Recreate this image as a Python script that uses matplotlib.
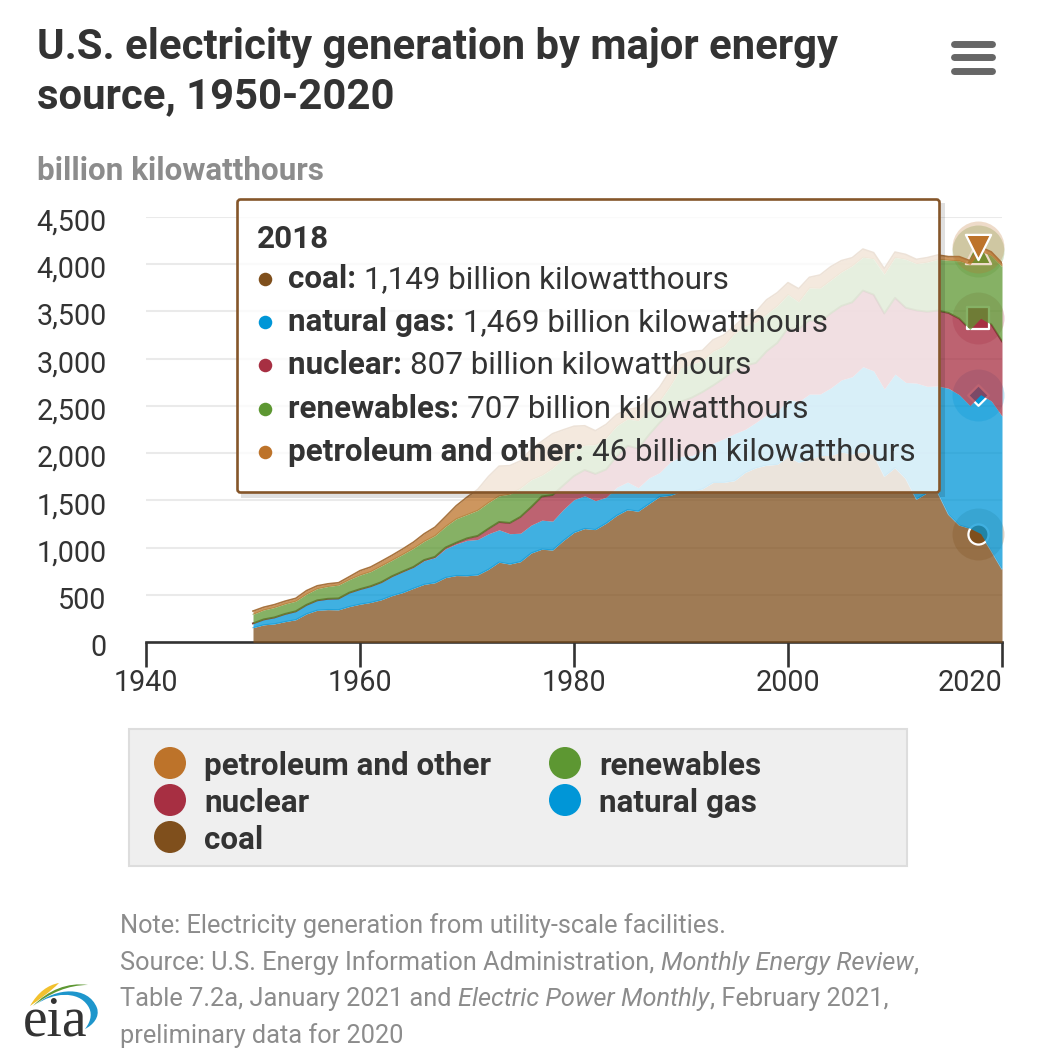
import matplotlib
matplotlib.use('Agg')
import matplotlib.pyplot as plt
import matplotlib.patches as patches
from matplotlib.path import Path
from matplotlib.transforms import ScaledTranslation
import numpy as np

plt.rcParams['font.family'] = ['Roboto', 'DejaVu Sans']

W, H = 1058, 1054

# data, billion kilowatthours
years = list(range(1950, 2021))
coal = [155, 185, 195, 219, 239, 301, 339, 346, 344, 378,
        403, 422, 450, 494, 526, 571, 613, 630, 685, 706,
        704, 713, 771, 848, 828, 853, 944, 985, 976, 1075,
        1162, 1203, 1192, 1259, 1342, 1402, 1386, 1464, 1541, 1554,
        1594, 1592, 1622, 1690, 1691, 1709, 1796, 1845, 1873, 1881,
        1966, 1904, 1933, 1974, 1978, 2013, 1991, 2016, 1986, 1756,
        1847, 1733, 1514, 1581, 1582, 1352, 1239, 1206, 1149, 965, 774]
natural_gas = [45, 57, 68, 81, 89, 95, 105, 114, 120, 147,
               158, 169, 184, 202, 220, 222, 251, 265, 304, 333,
               373, 374, 376, 341, 320, 300, 295, 306, 305, 329,
               346, 346, 305, 274, 297, 292, 249, 273, 253, 352,
               373, 381, 404, 415, 460, 496, 455, 479, 531, 556,
               601, 639, 691, 650, 711, 761, 816, 897, 883, 921,
               988, 1014, 1226, 1125, 1127, 1333, 1378, 1296, 1469, 1586, 1617]
nuclear = [0, 0, 0, 0, 0, 0, 0, 0, 0, 0,
           1, 2, 2, 3, 3, 4, 6, 8, 13, 14,
           22, 38, 54, 83, 114, 173, 191, 251, 276, 255,
           251, 273, 283, 294, 328, 384, 414, 455, 527, 529,
           577, 613, 619, 610, 640, 673, 675, 629, 673, 728,
           754, 769, 780, 764, 789, 782, 787, 806, 806, 799,
           807, 790, 769, 789, 797, 797, 806, 805, 807, 809, 790]
renewables = [96, 100, 105, 106, 107, 113, 123, 130, 141, 138,
              149, 155, 172, 169, 181, 197, 198, 224, 223, 253,
              251, 270, 276, 276, 304, 303, 288, 224, 283, 283,
              279, 261, 309, 332, 321, 284, 294, 257, 227, 277,
              357, 353, 333, 361, 339, 385, 420, 428, 394, 392,
              356, 287, 343, 355, 351, 358, 385, 352, 380, 417,
              427, 513, 494, 523, 543, 557, 610, 687, 707, 729, 792]
petroleum_other = [34, 29, 30, 29, 30, 37, 30, 28, 25, 30,
                   46, 48, 49, 52, 57, 65, 79, 89, 104, 138,
                   184, 220, 274, 314, 301, 289, 320, 358, 365, 304,
                   246, 206, 147, 144, 120, 100, 137, 118, 149, 158,
                   137, 134, 106, 121, 118, 80, 98, 111, 149, 138,
                   125, 138, 111, 140, 142, 121, 86, 86, 64, 57,
                   56, 50, 45, 48, 45, 38, 44, 40, 46, 38, 36]

series_names = ['coal', 'natural gas', 'nuclear', 'renewables', 'petroleum and other']
series_colors = ['#7F4F1C', '#0096D7', '#A72F42', '#5D9732', '#BD732A']
series_markers = ['o', 'D', 's', '^', 'v']
series_data = [coal, natural_gas, nuclear, renewables, petroleum_other]
y_ticks = [0, 500, 1000, 1500, 2000, 2500, 3000, 3500, 4000, 4500]
x_ticks = [1940, 1960, 1980, 2000, 2020]
hover_year = 2018

fig = plt.figure(figsize=(W / 100, H / 100), dpi=100, facecolor='white')

# main chart, placed by pixel position of the plot area
ax = fig.add_axes([146 / W, 1 - 642.3 / H, (1002 - 146) / W, (642.3 - 216.6) / H])
ax.set_xlim(1940, 2020)
ax.set_ylim(0, 4500)
for s in ['left', 'right', 'top']:
    ax.spines[s].set_visible(False)
ax.spines['bottom'].set_linewidth(1.9)
ax.spines['bottom'].set_color('#333333')
ax.set_axisbelow(True)
ax.yaxis.grid(True, color='#EAEAEA', lw=1.5)
ax.set_yticks(y_ticks)
ax.set_yticklabels([f'{v:,}' for v in y_ticks])
ax.set_xticks(x_ticks)
ax.tick_params(axis='y', length=0, pad=28.5, labelsize=20.7, labelcolor='#333333')
ax.tick_params(axis='x', length=18, width=1.9, color='#333333', pad=1.2, labelsize=20.7, labelcolor='#333333')
ax.get_xticklabels()[-1].set_ha('right')
for lab in ax.get_yticklabels():
    lab.set_transform(lab.get_transform() + ScaledTranslation(0, -2.0 / 72, fig.dpi_scale_trans))

# stacked areas, every layer covers the marker of the layer below
stack = np.cumsum(np.array(series_data, dtype=float), axis=0)
hover_i = years.index(hover_year)
marker_x = hover_year - 0.25  # hover markers sit a little left of the data point in the original
bottom = np.zeros(len(years))
edge_colors = ['#7FC4E6', '#7A3A38', '#7A3A38', '#A9C98F', '#A8743F']
edge_widths = [0.9, 0, 1.4, 0.8, 1.2]
for i, name in enumerate(series_names):
    z = 3 + i
    ax.fill_between(years, bottom, stack[i], color=series_colors[i], alpha=0.75, lw=0, zorder=z)
    if edge_widths[i] > 0:
        ax.plot(years, stack[i], color=edge_colors[i], lw=edge_widths[i], zorder=z + 0.1)
    ax.scatter([marker_x], [stack[i][hover_i]], s=1400, color=series_colors[i], alpha=0.25,
               lw=0, zorder=z + 0.2, clip_on=False)
    size = {'o': 210, 'D': 110, 's': 230, '^': 330, 'v': 330}[series_markers[i]]
    ax.scatter([marker_x], [stack[i][hover_i]], s=size, marker=series_markers[i], color=series_colors[i],
               edgecolors='white', linewidths=1.6, zorder=z + 0.3, clip_on=False)
    bottom = stack[i]

# everything else on a pixel overlay
ov = fig.add_axes([0, 0, 1, 1], facecolor='none')
ov.set_xlim(0, W)
ov.set_ylim(H, 0)
ov.axis('off')
renderer = fig.canvas.get_renderer()


def put_runs(x, y, runs, size, color):
    # text pieces in different weight or style on one baseline
    for txt, weight, style in runs:
        t = ov.text(x, y, txt, fontsize=size, color=color, fontweight=weight, fontstyle=style,
                    ha='left', va='baseline', zorder=20)
        x = t.get_window_extent(renderer).x1


ov.text(37, 59, 'U.S. electricity generation by major energy', fontsize=30.15, fontweight='bold',
        color='#333333', va='baseline')
ov.text(37, 108.5, 'source, 1950-2020', fontsize=30.15, fontweight='bold', color='#333333', va='baseline')
ov.text(37, 180, 'billion kilowatthours', fontsize=22.6, fontweight='bold', color='#8C8C8C', va='baseline')

# menu icon
for y in [44, 57, 71]:
    ov.plot([954, 992], [y, y], color='#666666', lw=5, solid_capstyle='round')

# tooltip shadow only outside the box, the box itself stays clean white
ov.add_patch(patches.Rectangle((940, 203), 5, 294, fc='#000000', ec='none', alpha=0.12, zorder=10))
ov.add_patch(patches.Rectangle((241, 493), 699, 5, fc='#000000', ec='none', alpha=0.12, zorder=10))
box = patches.FancyBboxPatch((237.5, 199.5), 702, 293, boxstyle='round,pad=0,rounding_size=3',
                             fc=(1, 1, 1, 0.8), ec='#85562A', lw=1.9, zorder=11)
ov.add_patch(box)
ov.text(257, 248, str(hover_year), fontsize=22.6, fontweight='bold', color='#333333', va='baseline', zorder=20)
tip_order = [0, 1, 2, 3, 4]
tip_y = [288, 331, 374, 417.5, 461]
for idx, y in zip(tip_order, tip_y):
    ov.scatter([265], [y - 9], s=95, color=series_colors[idx], lw=0, zorder=20)
    value = series_data[idx][hover_i]
    put_runs(288.5, y, [(series_names[idx] + ': ', 'bold', 'normal'),
                        (f'{value:,} billion kilowatthours', 'normal', 'normal')], 22.6, '#333333')

# legend
ov.add_patch(patches.Rectangle((128.5, 728.5), 778, 137, fc='#EFEFEF', ec='#DDDDDD', lw=1.5))
legend_order = [4, 3, 2, 1, 0]
legend_xy = [(170, 763), (565, 763), (170, 800), (565, 800), (170, 837)]
for idx, (x, y) in zip(legend_order, legend_xy):
    ov.add_patch(patches.Ellipse((x, y), 32, 32, fc=series_colors[idx], ec='none'))
    ov.text(x + 34, y + 12, series_names[idx], fontsize=22.6, fontweight='bold', color='#333333', va='baseline')

# note lines
note_color = '#8C8C8C'
note_size = 18.3
put_runs(120.5, 932.5, [('Note: Electricity generation from utility-scale facilities.', 'normal', 'normal')], note_size, note_color)
put_runs(120.5, 970, [('Source: U.S. Energy Information Administration, ', 'normal', 'normal'),
                      ('Monthly Energy Review', 'normal', 'italic'), (',', 'normal', 'normal')], note_size, note_color)
put_runs(120.5, 1006, [('Table 7.2a, January 2021 and ', 'normal', 'normal'),
                       ('Electric Power Monthly', 'normal', 'italic'),
                       (', February 2021,', 'normal', 'normal')], note_size, note_color)
put_runs(120.5, 1043, [('preliminary data for 2020', 'normal', 'normal')], note_size, note_color)

# eia logo
ov.text(23, 1036, 'eia', fontsize=40, family='Liberation Serif', color='#333333', va='baseline')
yellow = [(30, 1006), (38, 992), (48, 985), (59, 983), (50, 992), (40, 999), (30, 1006)]
green = [(33, 1006), (48, 990), (68, 982), (88, 985), (68, 985), (50, 993), (33, 1006)]
blue = [(37, 1004), (55, 988), (88, 985), (97, 1008), (100, 1017), (93, 1025), (85, 1029),
        (92, 1020), (92, 1012), (88, 1006), (78, 990), (52, 993), (37, 1004)]
for col, pts in [('#F2C12E', yellow), ('#5D9732', green), ('#1E96CC', blue)]:
    codes = [Path.MOVETO] + [Path.CURVE4] * (len(pts) - 1)
    ov.add_patch(patches.PathPatch(Path(pts, codes), fc=col, ec='none'))

fig.savefig('out.png', dpi=100, facecolor='white')
